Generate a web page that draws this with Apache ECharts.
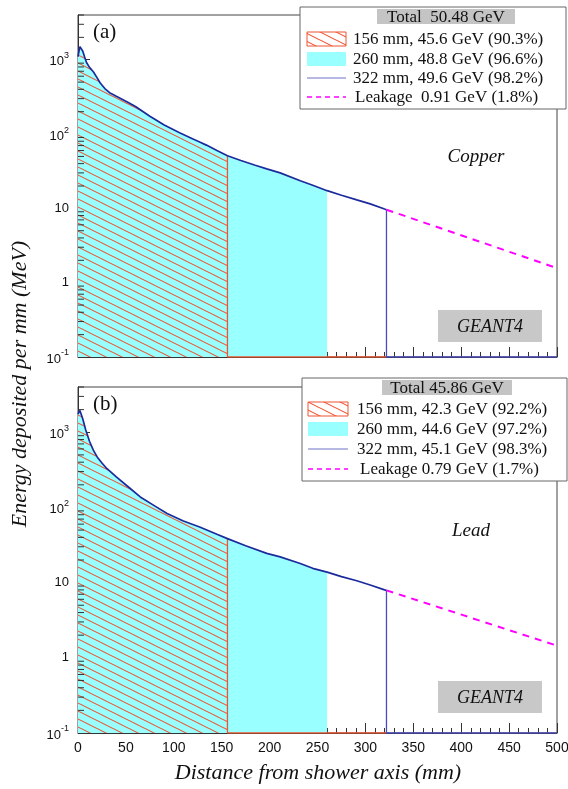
<!DOCTYPE html>
<html>
<head>
<meta charset="utf-8">
<script src="https://cdn.jsdelivr.net/npm/echarts@6.0.0/dist/echarts.min.js"></script>
<style>
  html, body { margin: 0; padding: 0; background: #fff; }
  #main { width: 568px; height: 789px; }
</style>
</head>
<body>
<div id="main"></div>
<script>
// values (mm, MeV per mm)
var copperX = [0, 1, 2, 3, 5, 7, 9, 12, 16, 20, 23, 28, 33, 40, 51, 60, 75, 90, 106, 120, 127, 134, 145, 156, 170, 185, 197, 211, 232, 245, 260, 275, 291, 305, 320, 322];
var copperY = [1100, 1300, 1500, 1520, 1300, 1080, 910, 790, 690, 570, 490, 410, 360, 322, 272, 235, 174, 132, 104, 86, 78, 71, 60, 51, 44, 38, 34, 30, 23.5, 20.5, 17.3, 15, 13, 11.5, 9.8, 9.6];
var copperLeakX = [322, 500];
var copperLeakY = [9.6, 1.57];

var leadX = [0, 1, 2, 3, 5, 8, 12, 16, 20, 25, 30, 40, 52, 65, 80, 93, 110, 127, 145, 156, 175, 197, 211, 232, 245, 260, 275, 291, 305, 320, 322];
var leadY = [1750, 1850, 1950, 1850, 1500, 1080, 760, 580, 470, 390, 330, 255, 190, 138, 105, 83, 66, 55, 44, 38.5, 31, 24.5, 22, 18, 15.5, 13.8, 12, 10.6, 9.3, 8.0, 7.9];
var leadLeakX = [322, 500];
var leadLeakY = [7.9, 1.45];

var cuts = [156, 260, 322];
var copperTotal = 'Total  50.48 GeV';
var copperLegend = ['156 mm, 45.6 GeV (90.3%)', '260 mm, 48.8 GeV (96.6%)', '322 mm, 49.6 GeV (98.2%)', 'Leakage  0.91 GeV (1.8%)'];
var leadTotal = 'Total 45.86 GeV';
var leadLegend = ['156 mm, 42.3 GeV (92.2%)', '260 mm, 44.6 GeV (97.2%)', '322 mm, 45.1 GeV (98.3%)', 'Leakage 0.79 GeV (1.7%)'];

var xTicks = [0, 50, 100, 150, 200, 250, 300, 350, 400, 450, 500];
var yDecades = [0.1, 1, 10, 100, 1000];
var YMIN = 0.1, YMAX = 4000;

var SERIF = "'Liberation Serif', 'DejaVu Serif', serif";
var SANS = "'Liberation Sans', Arial, sans-serif";
var CYAN = '#99ffff', RED = '#ee5533', BLUE = '#1c2a9c', MAG = '#ff00ff';

// hatch pattern  \\\
function hatchCanvas() {
  var c = document.createElement('canvas');
  c.width = 16; c.height = 8;
  var g = c.getContext('2d');
  g.strokeStyle = RED;
  g.lineWidth = 1.1;
  for (var k = -1; k <= 1; k++) {
    g.beginPath();
    g.moveTo(0, k * 8);
    g.lineTo(16, 8 + k * 8);
    g.stroke();
  }
  return c;
}
var hatch = { image: hatchCanvas(), repeat: 'repeat' };

var minorY = [];
yDecades.forEach(function (d) {
  for (var k = 2; k <= 9; k++) {
    if (d * k <= YMAX) minorY.push([0, d * k]);
  }
});

function pairs(xs, ys) {
  return xs.map(function (x, i) { return [x, ys[i]]; });
}

function areaSeries(gi, xs, ys, cut, fill, z) {
  return {
    type: 'custom', xAxisIndex: gi, yAxisIndex: gi, data: [[0, 1]], silent: true, z: z,
    renderItem: function (params, api) {
      var pts = [api.coord([0, YMIN])];
      for (var i = 0; i < xs.length; i++) {
        if (xs[i] <= cut) pts.push(api.coord([xs[i], ys[i]]));
      }
      pts.push(api.coord([cut, YMIN]));
      return { type: 'polygon', shape: { points: pts }, style: { fill: fill } };
    }
  };
}

function minorTickSeries(gi) {
  return {
    type: 'custom', xAxisIndex: gi, yAxisIndex: gi, data: minorY, silent: true, z: 10,
    renderItem: function (params, api) {
      var p = api.coord([0, api.value(1)]);
      return { type: 'line', shape: { x1: p[0], y1: p[1], x2: p[0] + 6, y2: p[1] }, style: { stroke: '#333', lineWidth: 1 } };
    }
  };
}

function panelSeries(gi, xs, ys, lx, ly) {
  var y156 = ys[xs.indexOf(cuts[0])];
  var y322 = ys[xs.indexOf(cuts[2])];
  return [
    areaSeries(gi, xs, ys, cuts[1], CYAN, 1),
    areaSeries(gi, xs, ys, cuts[0], hatch, 2),
    {
      type: 'line', xAxisIndex: gi, yAxisIndex: gi, symbol: 'none', silent: true, z: 3,
      data: [[cuts[0], y156], [cuts[0], YMIN], [cuts[2], YMIN]],
      lineStyle: { color: RED, width: 1.3 }
    },
    {
      type: 'line', xAxisIndex: gi, yAxisIndex: gi, symbol: 'none', silent: true, z: 4,
      data: [[cuts[2], y322], [cuts[2], YMIN], [500, YMIN]],
      lineStyle: { color: '#4a4ac0', width: 1.3 }
    },
    {
      type: 'line', xAxisIndex: gi, yAxisIndex: gi, symbol: 'none', silent: true, z: 5,
      data: pairs(xs, ys),
      lineStyle: { color: BLUE, width: 1.7 }
    },
    {
      type: 'line', xAxisIndex: gi, yAxisIndex: gi, symbol: 'none', silent: true, z: 5,
      data: pairs(lx, ly),
      lineStyle: { color: MAG, width: 2, type: [7, 6] }
    },
    minorTickSeries(gi)
  ];
}

function xAxisOf(gi, labels) {
  return {
    gridIndex: gi, type: 'value', min: 0, max: 500, interval: 50,
    axisLine: { lineStyle: { color: '#333', width: 1 } },
    axisTick: { inside: true, length: 10, lineStyle: { color: '#333' } },
    minorTick: { show: true, splitNumber: 5, length: 5, lineStyle: { color: '#333' } },
    splitLine: { show: false },
    axisLabel: {
      show: labels, fontSize: 14, color: '#111', fontFamily: SANS, margin: 8,
      formatter: function (v) { return xTicks.indexOf(v) >= 0 ? String(v) : ''; }
    }
  };
}

function yAxisOf(gi) {
  return {
    gridIndex: gi, type: 'log', logBase: 10, min: YMIN, max: YMAX,
    axisLine: { lineStyle: { color: '#333', width: 1 } },
    axisTick: { inside: true, length: 12, lineStyle: { color: '#333' } },
    splitLine: { show: false },
    axisLabel: {
      fontSize: 13, color: '#111', fontFamily: SANS, margin: 9, showMaxLabel: false,
      formatter: function (v) {
        for (var i = 0; i < yDecades.length; i++) {
          if (Math.abs(v - yDecades[i]) < 1e-6 * yDecades[i]) {
            var e = Math.round(Math.log10(v));
            if (e === 0) return '1';
            if (e === 1) return '10';
            return '{b|10}{s|' + e + '}';
          }
        }
        return '';
      },
      rich: {
        b: { fontSize: 13, fontFamily: SANS, color: '#111', lineHeight: 17, verticalAlign: 'bottom' },
        s: { fontSize: 9, fontFamily: SANS, color: '#111', lineHeight: 17, verticalAlign: 'top' }
      }
    }
  };
}

function txt(x, y, s, font, align, extra) {
  var el = { type: 'text', x: x, y: y, z: 100, silent: true,
    style: { text: s, font: font, fill: '#111', align: align || 'left', verticalAlign: 'middle' } };
  if (extra) for (var k in extra) el[k] = extra[k];
  return el;
}

function legendBox(box, head, rows, swX, textX, total, labels) {
  var els = [];
  els.push({ type: 'rect', z: 90, silent: true, shape: { x: box[0], y: box[1], width: box[2], height: box[3] },
    style: { fill: '#fff', stroke: '#666', lineWidth: 1 } });
  els.push({ type: 'rect', z: 91, silent: true, shape: { x: head[0], y: head[1], width: head[2], height: head[3] },
    style: { fill: '#c4c4c4' } });
  els.push(txt(head[0] + head[2] / 2, head[1] + head[3] / 2 + 1, total, '17px ' + SERIF, 'center'));
  els.push({ type: 'rect', z: 92, silent: true, shape: { x: swX[0], y: rows[0] - 7, width: swX[1] - swX[0], height: 14 },
    style: { fill: hatch, stroke: RED, lineWidth: 1 } });
  els.push({ type: 'rect', z: 92, silent: true, shape: { x: swX[0], y: rows[1] - 7, width: swX[1] - swX[0], height: 14 },
    style: { fill: CYAN } });
  els.push({ type: 'line', z: 92, silent: true, shape: { x1: swX[0], y1: rows[2], x2: swX[1], y2: rows[2] },
    style: { stroke: '#7070c8', lineWidth: 1 } });
  els.push({ type: 'line', z: 92, silent: true, shape: { x1: swX[0], y1: rows[3], x2: swX[1], y2: rows[3] },
    style: { stroke: MAG, lineWidth: 1.6, lineDash: [5, 4] } });
  for (var i = 0; i < 4; i++) {
    els.push(txt(textX[i], rows[i] + 1, labels[i], '17px ' + SERIF, 'left'));
  }
  return els;
}

var graphics = []
  .concat(legendBox([300, 7, 266, 102], [377, 9, 138, 15], [39, 59, 78, 97], [307, 346], [353, 353, 353, 355], copperTotal, copperLegend))
  .concat(legendBox([302, 378, 265, 103], [382, 380, 130, 15], [409, 429, 449, 469], [308, 348], [357, 357, 357, 360], leadTotal, leadLegend))
  .concat([
    txt(93, 32, '(a)', '21px ' + SERIF),
    txt(93, 404, '(b)', '21px ' + SERIF),
    txt(476, 157, 'Copper', 'italic 19px ' + SERIF, 'center'),
    txt(471, 531, 'Lead', 'italic 19px ' + SERIF, 'center'),
    { type: 'rect', z: 90, silent: true, shape: { x: 438, y: 310, width: 104, height: 32 }, style: { fill: '#c8c8c8' } },
    txt(490, 327, 'GEANT4', 'italic 18px ' + SERIF, 'center'),
    { type: 'rect', z: 90, silent: true, shape: { x: 438, y: 681, width: 104, height: 32 }, style: { fill: '#c8c8c8' } },
    txt(490, 698, 'GEANT4', 'italic 18px ' + SERIF, 'center'),
    txt(20, 384, 'Energy deposited per mm (MeV)', 'italic 22px ' + SERIF, 'center', { rotation: Math.PI / 2 }),
    txt(318, 773, 'Distance from shower axis (mm)', 'italic 22px ' + SERIF, 'center')
  ]);

var chart = echarts.init(document.getElementById('main'), null, { renderer: 'canvas' });
chart.setOption({
  animation: false,
  backgroundColor: '#fff',
  grid: [
    { left: 78, right: 11, top: 15, height: 342, show: true, borderColor: '#444', borderWidth: 1, backgroundColor: 'transparent', outerBoundsMode: 'none', containLabel: false },
    { left: 78, right: 11, top: 387, height: 346, show: true, borderColor: '#444', borderWidth: 1, backgroundColor: 'transparent', outerBoundsMode: 'none', containLabel: false }
  ],
  xAxis: [xAxisOf(0, false), xAxisOf(1, true)],
  yAxis: [yAxisOf(0), yAxisOf(1)],
  series: panelSeries(0, copperX, copperY, copperLeakX, copperLeakY)
    .concat(panelSeries(1, leadX, leadY, leadLeakX, leadLeakY)),
  graphic: graphics
});
</script>
</body>
</html>
